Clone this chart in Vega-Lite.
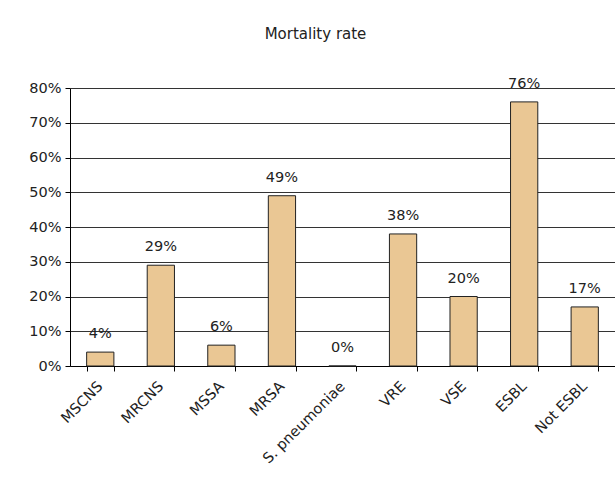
{
  "$schema": "https://vega.github.io/schema/vega-lite/v6.json",
  "width": 545,
  "height": 278,
  "autosize": {"type": "none"},
  "padding": {"left": 70, "top": 88, "right": 0, "bottom": 130},
  "background": "white",
  "title": {"text": "Mortality rate", "fontSize": 15, "font": "DejaVu Sans", "fontWeight": "normal", "color": "#222222", "anchor": "middle", "dx": -27, "offset": 34},
  "data": {"values": [
    {"organism": "MSCNS", "rate": 0.04},
    {"organism": "MRCNS", "rate": 0.29},
    {"organism": "MSSA", "rate": 0.06},
    {"organism": "MRSA", "rate": 0.49},
    {"organism": "S. pneumoniae", "rate": 0.0},
    {"organism": "VRE", "rate": 0.38},
    {"organism": "VSE", "rate": 0.20},
    {"organism": "ESBL", "rate": 0.76},
    {"organism": "Not ESBL", "rate": 0.17}
  ]},
  "encoding": {
    "x": {"field": "organism", "type": "nominal", "sort": null,
      "scale": {"paddingInner": 0.55, "paddingOuter": 0.275},
      "axis": {"title": null, "labelAngle": -45, "labelAlign": "right", "labelBaseline": "middle", "labelFont": "DejaVu Sans", "labelFontSize": 14.5, "labelColor": "#222222", "domainColor": "#000000", "tickColor": "#000000", "tickSize": 5, "tickBand": "extent", "labelPadding": 13, "grid": false, "labelOverlap": false}},
    "y": {"field": "rate", "type": "quantitative",
      "scale": {"domain": [0, 0.8], "nice": false},
      "axis": {"title": null, "format": ".0%", "values": [0, 0.1, 0.2, 0.3, 0.4, 0.5, 0.6, 0.7, 0.8], "labelOverlap": false, "labelFont": "DejaVu Sans", "labelFontSize": 14.5, "labelColor": "#222222", "domainColor": "#000000", "tickColor": "#000000", "tickSize": 5, "gridColor": "#333333", "gridOpacity": 1, "gridWidth": 1.2, "labelPadding": 4}}
  },
  "layer": [
    {"mark": {"type": "bar", "fill": "#EAC794", "stroke": "#222222", "strokeWidth": 1}},
    {"mark": {"type": "text", "dy": -18, "font": "DejaVu Sans", "fontSize": 14.5, "color": "#222222"},
     "encoding": {"text": {"field": "rate", "type": "quantitative", "format": ".0%"}}}
  ],
  "config": {"view": {"stroke": null}}
}
